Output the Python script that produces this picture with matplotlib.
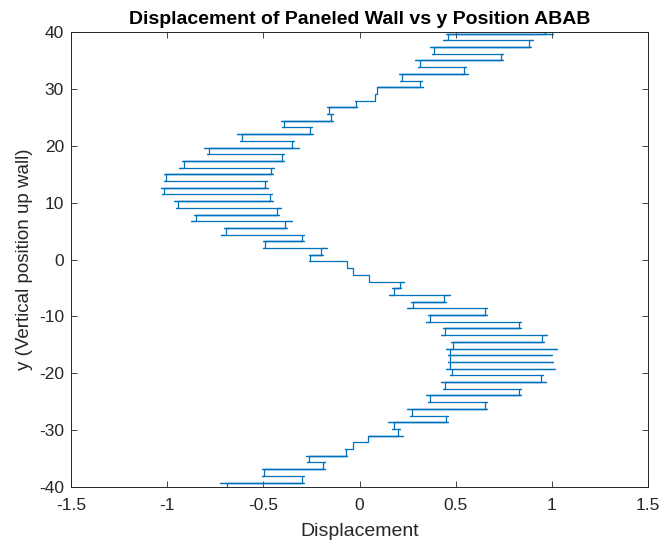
import matplotlib
matplotlib.use('Agg')
import matplotlib.pyplot as plt

plt.rcParams['font.family'] = ['Liberation Sans', 'DejaVu Sans']
plt.rcParams['axes.unicode_minus'] = False

# y level of each panel edge (rung), top to bottom; first and last lie just outside the axes
rung_y = [40.88, 39.71, 38.53, 37.36, 36.18, 35.00, 33.82, 32.64, 31.47, 30.29,
          29.11, 27.93, 26.75, 25.57, 24.40, 23.22, 22.04, 20.86, 19.68, 18.51,
          17.33, 16.15, 14.97, 13.79, 12.62, 11.44, 10.26, 9.08, 7.90, 6.72,
          5.55, 4.37, 3.19, 2.01, 0.83, -0.35, -1.52, -2.70, -3.88, -5.06,
          -6.24, -7.41, -8.59, -9.77, -10.95, -12.13, -13.31, -14.48, -15.66, -16.84,
          -18.02, -19.20, -20.37, -21.55, -22.73, -23.91, -25.09, -26.26, -27.44, -28.62,
          -29.80, -30.98, -32.16, -33.33, -34.51, -35.69, -36.87, -38.05, -39.22, -40.40]

# left / right displacement of each rung
rung_left = [0.516, 0.448, 0.434, 0.369, 0.379, 0.288, 0.305, 0.206, 0.213, 0.092,
             0.080, -0.023, -0.167, -0.167, -0.408, -0.403, -0.636, -0.622, -0.806, -0.792,
             -0.921, -0.939, -1.017, -1.017, -1.034, -1.025, -0.965, -0.956, -0.860, -0.877,
             -0.705, -0.719, -0.502, -0.502, -0.265, -0.265, -0.066, -0.032, 0.051, 0.167,
             0.155, 0.270, 0.248, 0.356, 0.348, 0.434, 0.426, 0.477, 0.448, 0.460,
             0.460, 0.448, 0.469, 0.426, 0.434, 0.348, 0.356, 0.248, 0.262, 0.150,
             0.167, 0.046, -0.032, -0.075, -0.278, -0.275, -0.507, -0.505, -0.726, -0.700]
rung_right = [0.975, 1.004, 0.901, 0.892, 0.745, 0.745, 0.555, 0.564, 0.327, 0.331,
              0.092, 0.080, -0.015, -0.139, -0.136, -0.248, -0.243, -0.343, -0.317, -0.395,
              -0.390, -0.447, -0.450, -0.481, -0.478, -0.455, -0.450, -0.408, -0.420, -0.351,
              -0.377, -0.287, -0.290, -0.170, -0.188, -0.066, -0.032, 0.051, 0.231, 0.218,
              0.469, 0.451, 0.662, 0.662, 0.840, 0.840, 0.973, 0.961, 1.025, 1.001,
              1.004, 1.018, 0.956, 0.970, 0.840, 0.840, 0.662, 0.662, 0.460, 0.460,
              0.210, 0.224, 0.046, -0.032, -0.066, -0.181, -0.181, -0.287, -0.287, -0.500]

inset = 0.01


def connector(a, b):
    # vertical link between two rungs sits at the pair of ends closest together
    la, ra = rung_left[a], rung_right[a]
    lb, rb = rung_left[b], rung_right[b]
    opts = [(abs(la - lb), max(la, lb) + inset),
            (abs(ra - rb), min(ra, rb) - inset),
            (abs(la - rb), (la + rb) / 2),
            (abs(ra - lb), (ra + lb) / 2)]
    return min(opts)[1]


xs, ys = [], []
n = len(rung_y)
for k in range(n):
    c_prev = connector(k - 1, k) if k > 0 else rung_left[k]
    c_next = connector(k, k + 1) if k < n - 1 else rung_right[k]
    for xv in (c_prev, rung_left[k], rung_right[k], c_next):
        xs.append(xv)
        ys.append(rung_y[k])

fig = plt.figure(figsize=(6.6, 5.48), dpi=100)
ax = fig.add_axes([0.1076, 0.1113, 0.8742, 0.8303])
ax.plot(xs, ys, color='#0072BD', lw=0.9)

ax.set_xlim(-1.5, 1.5)
ax.set_ylim(-40, 40)
ax.set_xticks([-1.5, -1, -0.5, 0, 0.5, 1, 1.5])
ax.set_xticklabels(['-1.5', '-1', '-0.5', '0', '0.5', '1', '1.5'])
ax.set_yticks(range(-40, 41, 10))
ax.tick_params(direction='in', top=True, right=True, length=4, width=0.6,
               colors='#262626', labelsize=12.5, pad=5)
ax.tick_params(axis='x', pad=8)
for sp in ax.spines.values():
    sp.set_color('#262626')
    sp.set_linewidth(0.7)

ax.set_title('Displacement of Paneled Wall vs y Position ABAB', fontsize=14,
             fontweight='bold', pad=6)
ax.set_xlabel('Displacement', fontsize=14, color='#262626', labelpad=7)
ax.set_ylabel('y (Vertical position up wall)', fontsize=13.5, color='#262626', labelpad=4)

fig.savefig('out.png', dpi=100)
